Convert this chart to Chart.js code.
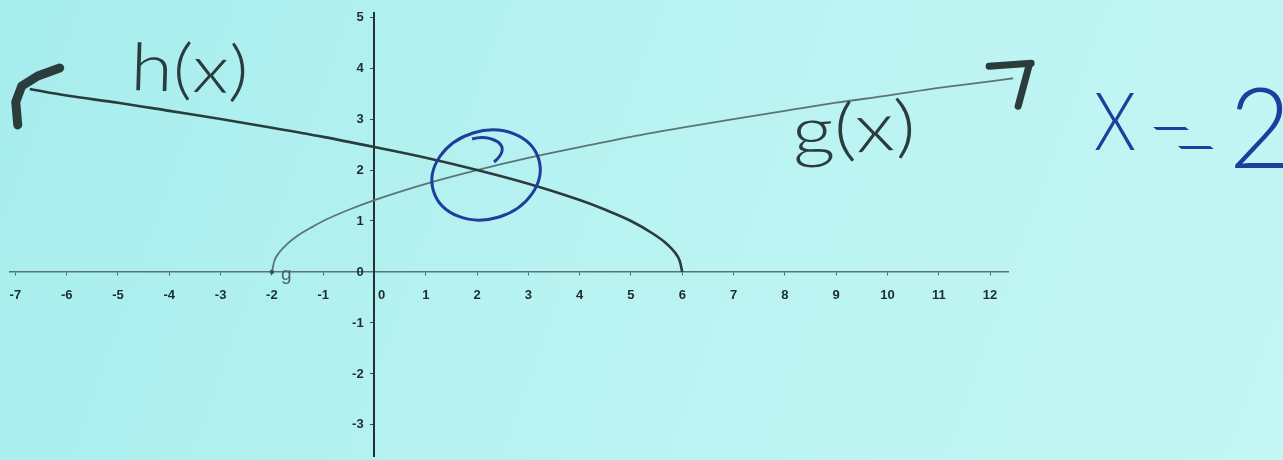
<!DOCTYPE html>
<html>
<head>
<meta charset="utf-8">
<title>h(x) and g(x)</title>
<script src="https://cdn.jsdelivr.net/npm/chart.js@4.4.1/dist/chart.umd.min.js"></script>
<style>
  html, body { margin: 0; padding: 0; background: #baf3f2; overflow: hidden; }
  canvas { display: block; }
</style>
</head>
<body>
<canvas id="graph" width="1283" height="460"></canvas>
<script>
'use strict';

// h(x), from the left arrow down to where it meets the x-axis
var hX = [-6.72, -6, -5, -4, -3, -2, -1, 0, 1, 2, 3, 4, 4.5, 5, 5.4, 5.7, 5.85, 5.95, 6];
var hY = [3.59, 3.46, 3.32, 3.16, 3.0, 2.83, 2.65, 2.45, 2.24, 2.0, 1.73, 1.41, 1.22, 1.0, 0.77, 0.55, 0.39, 0.22, 0];

// g(x), from its start on the x-axis out to the right arrow
var gX = [-2, -1.95, -1.85, -1.7, -1.5, -1.2, -1, -0.5, 0, 1, 2, 3, 4, 5, 6, 7, 8, 9, 10, 11, 12, 12.45];
var gY = [0, 0.22, 0.39, 0.55, 0.71, 0.89, 1.0, 1.22, 1.41, 1.73, 2.0, 2.24, 2.45, 2.65, 2.83, 3.0, 3.16, 3.32, 3.46, 3.61, 3.74, 3.8];

var xTicks = [-7, -6, -5, -4, -3, -2, -1, 0, 1, 2, 3, 4, 5, 6, 7, 8, 9, 10, 11, 12];
var xTickLabels = ['-7', '-6', '-5', '-4', '-3', '-2', '-1', '    0', '1', '2', '3', '4', '5', '6', '7', '8', '9', '10', '11', '12'];
var yTicks = [-3, -2, -1, 0, 1, 2, 3, 4, 5];
var yTickLabels = ['-3', '-2', '-1', '0', '1', '2', '3', '4', '5'];

var solution = 2; // where the two curves cross

var ink = '#2b3c3c';
var pen = '#1f3d9c';

function toPoints(xs, ys) {
  var pts = [];
  for (var i = 0; i < xs.length; i++) {
    pts.push({x: xs[i], y: ys[i]});
  }
  return pts;
}

// scribbled text, squeezed to a given width and tilted a little
function handText(ctx, text, x, y, width, size, color, angle) {
  ctx.save();
  ctx.font = '300 ' + size + 'px Lato, "DejaVu Sans", sans-serif';
  ctx.fillStyle = color;
  ctx.textBaseline = 'alphabetic';
  var w = ctx.measureText(text).width;
  ctx.translate(x, y);
  ctx.rotate(angle);
  ctx.scale(width / w, 1);
  ctx.fillText(text, 0, 0);
  ctx.restore();
}

function stroke(ctx, pts, width, color) {
  ctx.save();
  ctx.strokeStyle = color;
  ctx.lineWidth = width;
  ctx.lineCap = 'round';
  ctx.lineJoin = 'round';
  ctx.beginPath();
  ctx.moveTo(pts[0][0], pts[0][1]);
  for (var i = 1; i < pts.length; i++) {
    ctx.lineTo(pts[i][0], pts[i][1]);
  }
  ctx.stroke();
  ctx.restore();
}

var paper = {
  id: 'paper',
  beforeDraw: function(chart) {
    var ctx = chart.ctx;
    var grad = ctx.createLinearGradient(0, 0, chart.width, chart.height);
    grad.addColorStop(0, '#a7eded');
    grad.addColorStop(0.5, '#b9f3f2');
    grad.addColorStop(1, '#c3f6f4');
    ctx.save();
    ctx.fillStyle = grad;
    ctx.fillRect(0, 0, chart.width, chart.height);
    ctx.restore();
  },
  afterDraw: function(chart) {
    var ctx = chart.ctx;
    var xs = chart.scales.x;
    var ys = chart.scales.y;

    // arrow heads at the open ends of both curves
    var hx = xs.getPixelForValue(hX[0]);
    var hy = ys.getPixelForValue(hY[0]);
    stroke(ctx, [[hx + 30, hy - 21], [hx + 8, hy - 13], [hx - 8, hy - 3], [hx - 14, hy + 13], [hx - 12, hy + 36]], 9, ink);

    var gx = xs.getPixelForValue(gX[gX.length - 1]);
    var gy = ys.getPixelForValue(gY[gY.length - 1]);
    stroke(ctx, [[gx - 24, gy - 12], [gx + 18, gy - 15]], 7, ink);
    stroke(ctx, [[gx + 16, gy - 13], [gx + 5, gy + 28]], 7, ink);

    // ring round the crossing point
    var cx = xs.getPixelForValue(solution) + 9;
    var cy = ys.getPixelForValue(solution) + 5;
    ctx.save();
    ctx.strokeStyle = pen;
    ctx.lineWidth = 3;
    ctx.beginPath();
    ctx.ellipse(cx, cy, 55, 44, -0.3, 0, Math.PI * 2);
    ctx.stroke();
    ctx.beginPath();
    ctx.moveTo(cx + 8, cy - 13);
    ctx.quadraticCurveTo(cx + 22, cy - 25, cx + 12, cy - 33);
    ctx.quadraticCurveTo(cx, cy - 40, cx - 14, cy - 36);
    ctx.stroke();
    ctx.restore();

    // printed tag at the start of g
    ctx.save();
    ctx.font = '19px "Liberation Sans", Arial, sans-serif';
    ctx.fillStyle = '#4d6464';
    ctx.fillText('g', xs.getPixelForValue(-2) + 9, ys.getPixelForValue(0) + 8);
    ctx.restore();

    handText(ctx, 'h(x)', 130, 90, 118, 66, ink, 0.03);
    handText(ctx, 'g(x)', 793, 156, 124, 68, ink, -0.06);

    // the answer, written off to the right
    handText(ctx, 'X', 1094, 150, 42, 80, pen, 0);
    ctx.save();
    ctx.font = '100 130px Lato, "DejaVu Sans", sans-serif';
    ctx.fillStyle = pen;
    ctx.strokeStyle = pen;
    ctx.lineWidth = 1.6;
    ctx.textAlign = 'center';
    ctx.textBaseline = 'middle';
    ctx.translate(1186, 140);
    ctx.transform(0.6, 0, 1.3, 1, 0, 0);
    ctx.fillText('=', 0, 0);
    ctx.strokeText('=', 0, 0);
    ctx.restore();
    handText(ctx, '2', 1229, 168, 62, 112, pen, 0);
  }
};

new Chart(document.getElementById('graph'), {
  type: 'scatter',
  data: {
    datasets: [{
      label: 'h(x)',
      data: toPoints(hX, hY),
      showLine: true,
      borderColor: ink,
      borderWidth: 2.6,
      pointRadius: 0,
      cubicInterpolationMode: 'monotone',
      clip: false
    }, {
      label: 'g(x)',
      data: toPoints(gX, gY),
      showLine: true,
      borderColor: '#5b7474',
      borderWidth: 1.8,
      pointRadius: gX.map(function(v, i) { return i === 0 ? 2.2 : 0; }),
      pointBackgroundColor: '#3d5252',
      pointBorderWidth: 0,
      cubicInterpolationMode: 'monotone',
      clip: false
    }]
  },
  options: {
    responsive: false,
    animation: false,
    layout: { padding: { left: 10, right: 275, top: 13, bottom: 0 } },
    plugins: {
      legend: { display: false },
      tooltip: { enabled: false }
    },
    scales: {
      x: {
        type: 'linear',
        min: -7.105,
        max: 12.35,
        position: { y: 0 },
        afterFit: function(scale) {
          scale.height = 0;
          scale.paddingLeft = 0;
          scale.paddingRight = 0;
        },
        afterBuildTicks: function(scale) {
          scale.ticks = xTicks.map(function(v) { return {value: v}; });
        },
        grid: { drawOnChartArea: false, tickLength: 3, color: '#4f6b6b' },
        border: { color: '#587474', width: 1.5 },
        ticks: {
          padding: 13,
          color: '#1d2d2d',
          font: { family: 'Arial, "Liberation Sans", sans-serif', size: 13, weight: 'bold' },
          maxRotation: 0,
          autoSkip: false,
          callback: function(v) { return xTickLabels[xTicks.indexOf(v)]; }
        }
      },
      y: {
        type: 'linear',
        min: -3.61,
        max: 5.08,
        position: { x: 0 },
        afterFit: function(scale) {
          scale.width = 0;
          scale.paddingTop = 0;
          scale.paddingBottom = 0;
        },
        afterBuildTicks: function(scale) {
          scale.ticks = yTicks.map(function(v) { return {value: v}; });
        },
        grid: { drawOnChartArea: false, tickLength: 3, color: '#3a5050' },
        border: { color: '#223232', width: 2 },
        ticks: {
          color: '#1d2d2d',
          font: { family: 'Arial, "Liberation Sans", sans-serif', size: 13, weight: 'bold' },
          autoSkip: false,
          // trailing spaces keep the numbers clear of the axis line
          callback: function(v) { return yTickLabels[yTicks.indexOf(v)] + '   '; }
        }
      }
    }
  },
  plugins: [paper]
});
</script>
</body>
</html>
